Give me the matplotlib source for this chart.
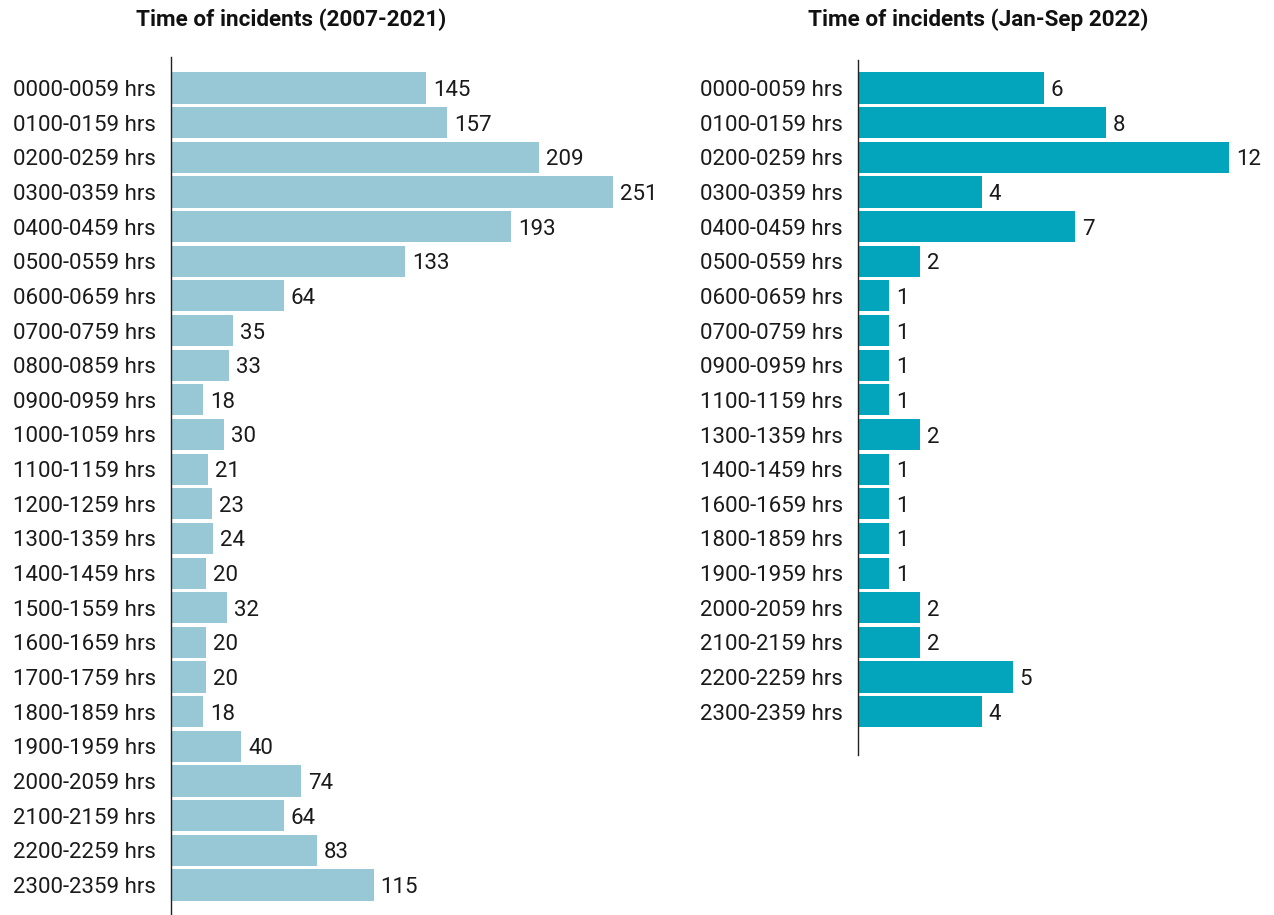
import matplotlib
matplotlib.use("Agg")
import matplotlib.pyplot as plt

plt.rcParams['font.family'] = ['Roboto', 'DejaVu Sans']

# Incidents by hour band, 2007-2021
labels_hist = ['0000-0059 hrs', '0100-0159 hrs', '0200-0259 hrs', '0300-0359 hrs',
               '0400-0459 hrs', '0500-0559 hrs', '0600-0659 hrs', '0700-0759 hrs',
               '0800-0859 hrs', '0900-0959 hrs', '1000-1059 hrs', '1100-1159 hrs',
               '1200-1259 hrs', '1300-1359 hrs', '1400-1459 hrs', '1500-1559 hrs',
               '1600-1659 hrs', '1700-1759 hrs', '1800-1859 hrs', '1900-1959 hrs',
               '2000-2059 hrs', '2100-2159 hrs', '2200-2259 hrs', '2300-2359 hrs']
values_hist = [145, 157, 209, 251, 193, 133, 64, 35, 33, 18, 30, 21,
               23, 24, 20, 32, 20, 20, 18, 40, 74, 64, 83, 115]

# Incidents by hour band, Jan-Sep 2022
labels_2022 = ['0000-0059 hrs', '0100-0159 hrs', '0200-0259 hrs', '0300-0359 hrs',
               '0400-0459 hrs', '0500-0559 hrs', '0600-0659 hrs', '0700-0759 hrs',
               '0900-0959 hrs', '1100-1159 hrs', '1300-1359 hrs', '1400-1459 hrs',
               '1600-1659 hrs', '1800-1859 hrs', '1900-1959 hrs', '2000-2059 hrs',
               '2100-2159 hrs', '2200-2259 hrs', '2300-2359 hrs']
values_2022 = [6, 8, 12, 4, 7, 2, 1, 1, 1, 1, 2, 1, 1, 1, 1, 2, 2, 5, 4]

W, H = 1274, 915
fig = plt.figure(figsize=(W / 100, H / 100), dpi=100)

row = 34.65      # px per bar slot
first = 88       # px centre of first bar


def make_axes(x0, top, bottom, xmax, pxu):
    width = xmax * pxu
    ax = fig.add_axes([x0 / W, 1 - bottom / H, width / W, (bottom - top) / H])
    ax.set_xlim(0, xmax)
    ax.set_ylim((bottom - first) / row, -(first - top) / row)
    return ax


def draw(ax, labels, values, color, title, title_x, pxu):
    ys = list(range(len(values)))
    ax.barh(ys, values, height=0.9, color=color)
    for y, v in zip(ys, values):
        ax.text(v + 7 / pxu, y, str(v), va='center_baseline', ha='left',
                fontsize=16, color='#1a1a1a')
    ax.set_yticks(ys)
    ax.set_yticklabels(labels, fontsize=16, color='#1a1a1a', va='center_baseline')
    ax.tick_params(axis='y', length=0, pad=11)
    ax.set_xticks([])
    for s in ['top', 'right', 'bottom']:
        ax.spines[s].set_visible(False)
    ax.spines['left'].set_color('#222222')
    ax.spines['left'].set_linewidth(1)
    fig.text(title_x / W, 1 - 20 / H, title, ha='center', va='center',
             fontsize=16.2, fontweight='bold', color='#111111')


ax1 = make_axes(171, 57, 915, 280, 1.761)
draw(ax1, labels_hist, values_hist, '#98c8d6', 'Time of incidents (2007-2021)', 291, 1.761)

ax2 = make_axes(858, 60, 755, 13, 30.95)
draw(ax2, labels_2022, values_2022, '#02a5bb', 'Time of incidents (Jan-Sep 2022)', 978, 30.95)

fig.savefig('out.png', dpi=100, facecolor='white')
